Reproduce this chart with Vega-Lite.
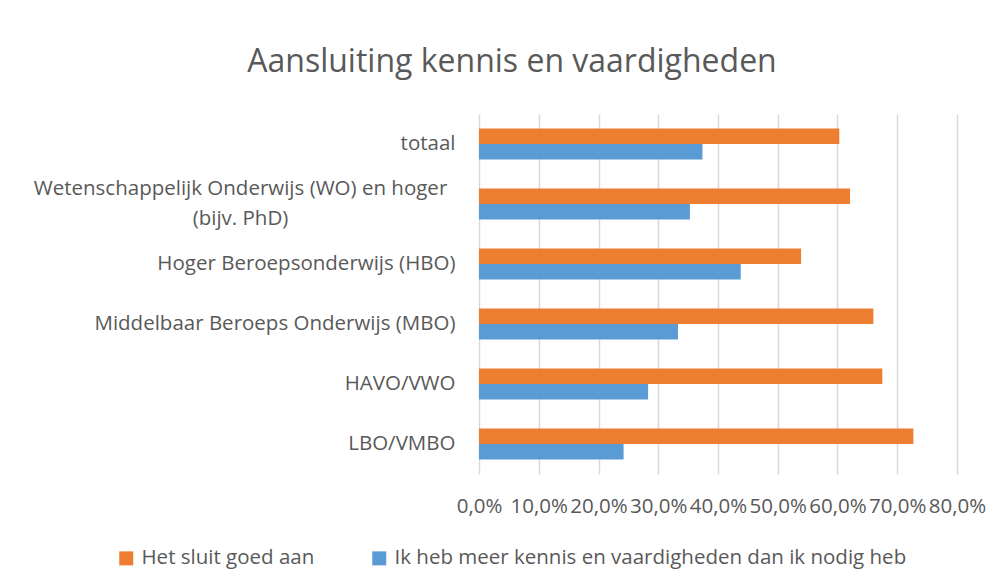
{
  "$schema": "https://vega.github.io/schema/vega-lite/v6.json",
  "autosize": {"type": "none"},
  "width": 478,
  "height": 360,
  "padding": {"left": 479, "top": 114, "right": 46, "bottom": 113},
  "background": "white",
  "title": {
    "text": "Aansluiting kennis en vaardigheden",
    "font": "Open Sans",
    "fontSize": 32,
    "fontWeight": "normal",
    "color": "#595959",
    "anchor": "middle",
    "dx": -206,
    "offset": 35
  },
  "data": {
    "values": [
      {"categorie": "totaal", "reeks": "Het sluit goed aan", "waarde": 0.603},
      {"categorie": "totaal", "reeks": "Ik heb meer kennis en vaardigheden dan ik nodig heb", "waarde": 0.374},
      {"categorie": "Wetenschappelijk Onderwijs (WO) en hoger (bijv. PhD)", "reeks": "Het sluit goed aan", "waarde": 0.621},
      {"categorie": "Wetenschappelijk Onderwijs (WO) en hoger (bijv. PhD)", "reeks": "Ik heb meer kennis en vaardigheden dan ik nodig heb", "waarde": 0.353},
      {"categorie": "Hoger Beroepsonderwijs (HBO)", "reeks": "Het sluit goed aan", "waarde": 0.539},
      {"categorie": "Hoger Beroepsonderwijs (HBO)", "reeks": "Ik heb meer kennis en vaardigheden dan ik nodig heb", "waarde": 0.438},
      {"categorie": "Middelbaar Beroeps Onderwijs (MBO)", "reeks": "Het sluit goed aan", "waarde": 0.660},
      {"categorie": "Middelbaar Beroeps Onderwijs (MBO)", "reeks": "Ik heb meer kennis en vaardigheden dan ik nodig heb", "waarde": 0.333},
      {"categorie": "HAVO/VWO", "reeks": "Het sluit goed aan", "waarde": 0.675},
      {"categorie": "HAVO/VWO", "reeks": "Ik heb meer kennis en vaardigheden dan ik nodig heb", "waarde": 0.283},
      {"categorie": "LBO/VMBO", "reeks": "Het sluit goed aan", "waarde": 0.727},
      {"categorie": "LBO/VMBO", "reeks": "Ik heb meer kennis en vaardigheden dan ik nodig heb", "waarde": 0.242}
    ]
  },
  "mark": {"type": "bar"},
  "encoding": {
    "y": {
      "field": "categorie",
      "type": "nominal",
      "sort": null,
      "scale": {"paddingInner": 0.483, "paddingOuter": 0.2415},
      "axis": {
        "title": null,
        "domain": false,
        "ticks": false,
        "labelFont": "Open Sans",
        "labelFontSize": 20.5,
        "labelColor": "#595959",
        "labelAlign": {"condition": {"test": "indexof(datum.value, 'PhD') >= 0", "value": "center"}, "value": "right"},
        "labelPadding": {"condition": {"test": "indexof(datum.value, 'PhD') >= 0", "value": 239}, "value": 24},
        "labelOffset": {"condition": {"test": "indexof(datum.value, 'PhD') >= 0", "value": -15}, "value": 0},
        "labelLimit": 500,
        "labelLineHeight": 30,
        "labelExpr": "indexof(datum.value, 'PhD') >= 0 ? ['Wetenschappelijk Onderwijs (WO) en hoger', '(bijv. PhD)'] : datum.value"
      }
    },
    "yOffset": {
      "field": "reeks",
      "type": "nominal",
      "sort": ["Het sluit goed aan", "Ik heb meer kennis en vaardigheden dan ik nodig heb"],
      "scale": {"paddingInner": 0, "paddingOuter": 0}
    },
    "x": {
      "field": "waarde",
      "type": "quantitative",
      "scale": {"domain": [0, 0.8], "nice": false},
      "axis": {
        "title": null,
        "values": [0, 0.1, 0.2, 0.3, 0.4, 0.5, 0.6, 0.7, 0.8],
        "labelExpr": "replace(format(datum.value, '.1%'), '.', ',')",
        "domain": false,
        "ticks": false,
        "grid": true,
        "gridColor": "#d9d9d9",
        "gridWidth": 1.5,
        "labelFont": "Open Sans",
        "labelFontSize": 20.5,
        "labelColor": "#595959",
        "labelPadding": 22,
        "labelOverlap": false,
        "labelFlush": false
      }
    },
    "color": {
      "field": "reeks",
      "type": "nominal",
      "sort": ["Het sluit goed aan", "Ik heb meer kennis en vaardigheden dan ik nodig heb"],
      "scale": {"range": ["#ED7D31", "#5B9BD5"]},
      "legend": {
        "title": null,
        "orient": "none",
        "direction": "horizontal",
        "legendX": -363,
        "legendY": 434,
        "symbolType": "square",
        "symbolSize": 196,
        "symbolStrokeWidth": 0,
        "symbolOpacity": 1,
        "labelOffset": 5,
        "labelFont": "Open Sans",
        "labelFontSize": 20.5,
        "labelColor": "#595959",
        "labelLimit": 700,
        "columnPadding": 54
      }
    }
  },
  "config": {
    "view": {"stroke": null}
  }
}
